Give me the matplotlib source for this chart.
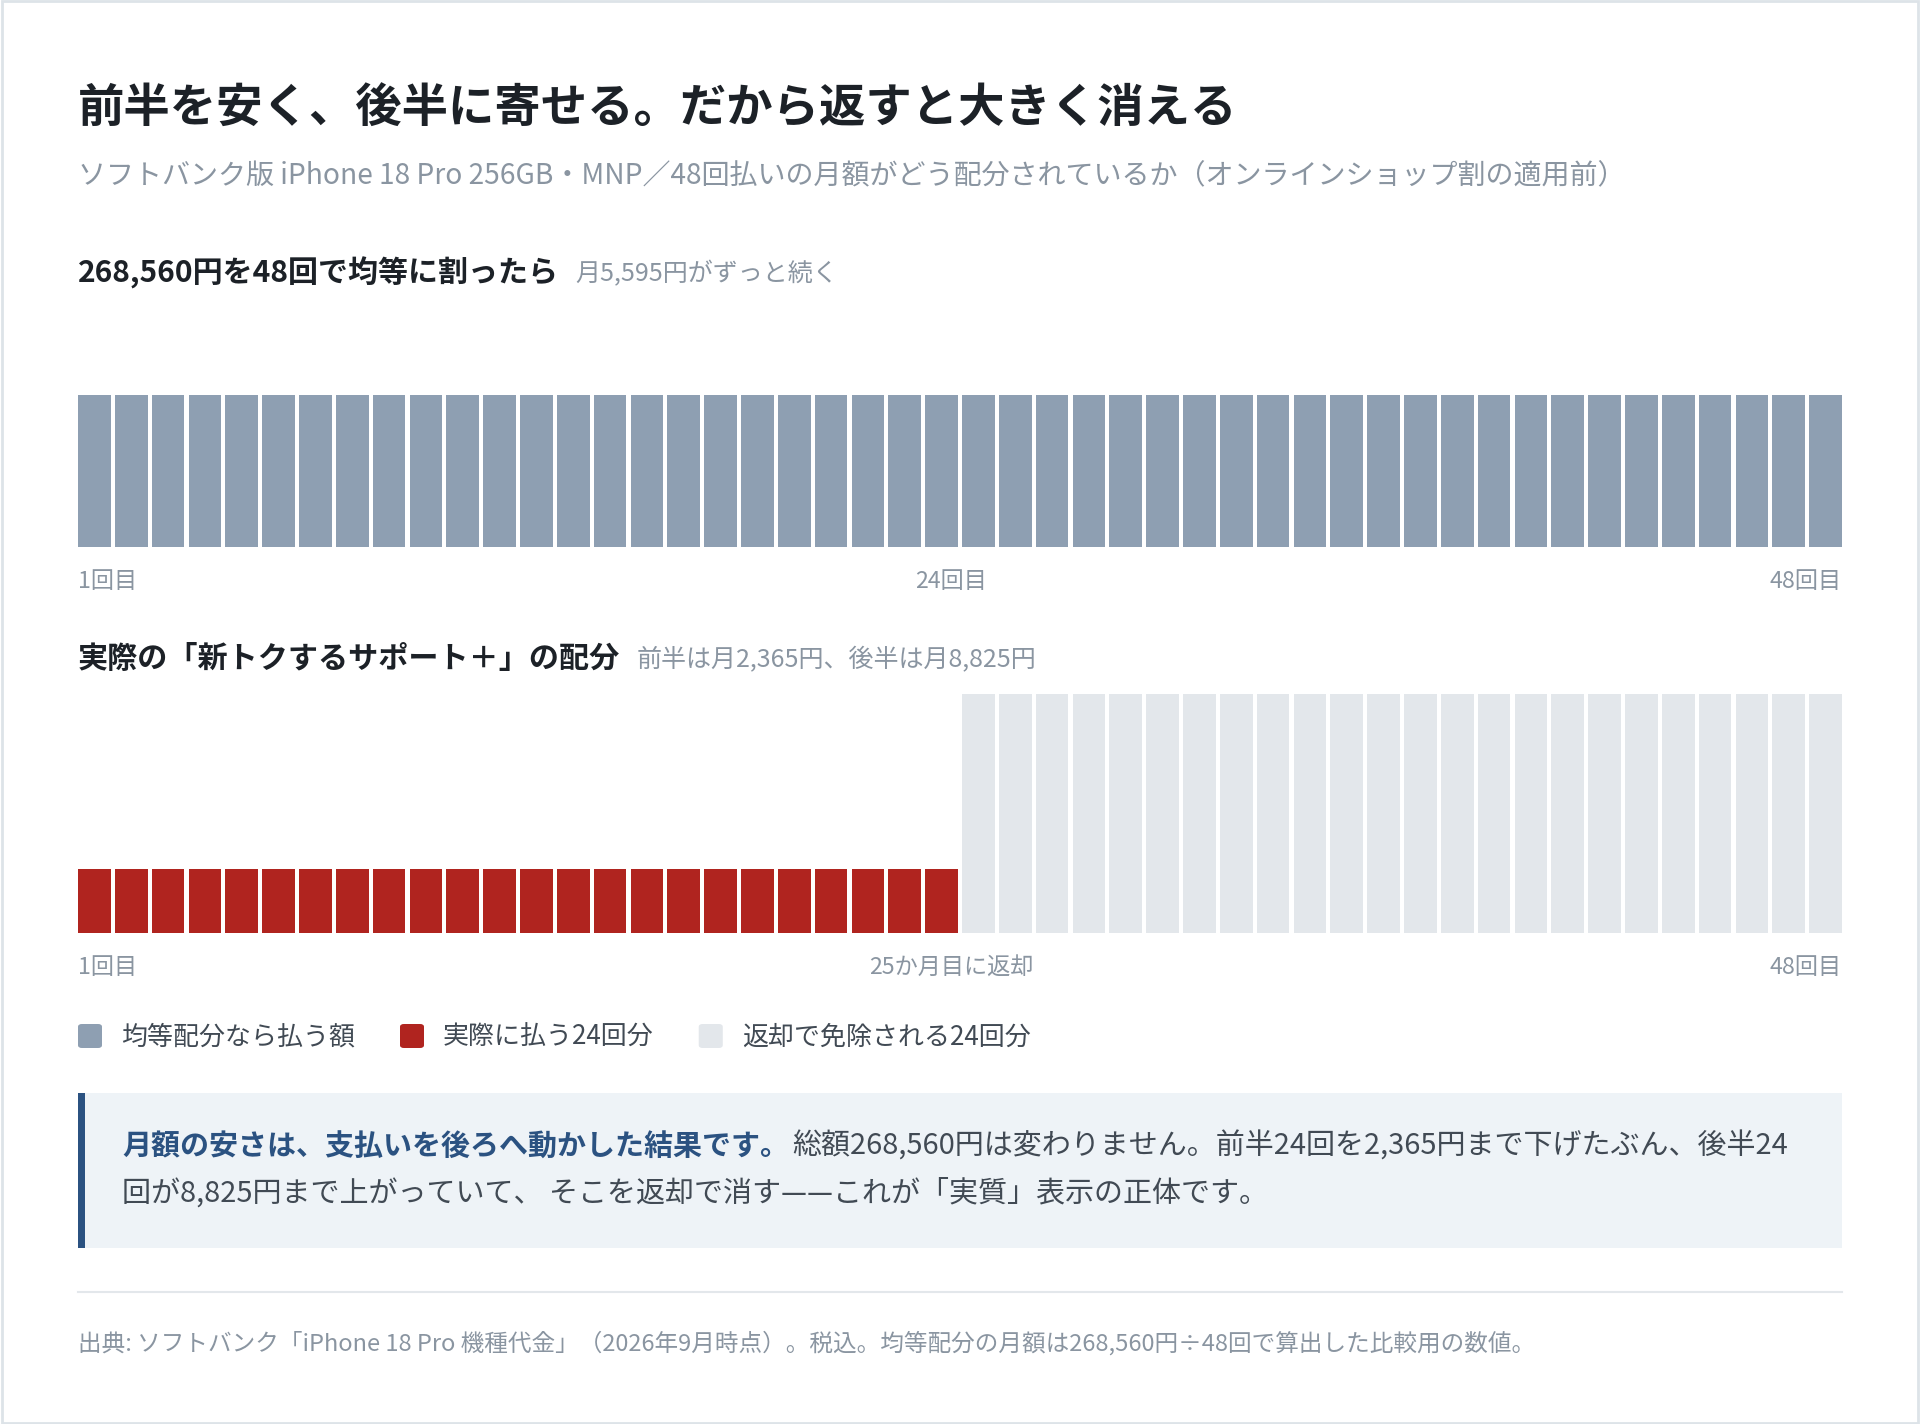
import numpy as np
import matplotlib.pyplot as plt
from matplotlib.patches import Rectangle, FancyBboxPatch
from matplotlib.lines import Line2D

plt.rcParams['font.family'] = ['Noto Sans CJK JP', 'DejaVu Sans']

# data
months = list(range(1, 49))
equal_values = [5595] * 48
actual_values = [2365] * 24 + [8825] * 24
actual_paid = [True] * 24 + [False] * 24

title = "前半を安く、後半に寄せる。だから返すと大きく消える"
subtitle = "ソフトバンク版 iPhone 18 Pro 256GB・MNP／48回払いの月額がどう配分されているか（オンラインショップ割の適用前）"
head1 = "268,560円を48回で均等に割ったら"
head1_note = "月5,595円がずっと続く"
head2 = "実際の「新トクするサポート＋」の配分"
head2_note = "前半は月2,365円、後半は月8,825円"
ticks1 = ["1回目", "24回目", "48回目"]
ticks2 = ["1回目", "25か月目に返却", "48回目"]
legend_labels = ["均等配分なら払う額", "実際に払う24回分", "返却で免除される24回分"]
note_bold = "月額の安さは、支払いを後ろへ動かした結果です。"
note_line1 = "総額268,560円は変わりません。前半24回を2,365円まで下げたぶん、後半24"
note_line2 = "回が8,825円まで上がっていて、 そこを返却で消す——これが「実質」表示の正体です。"
source = "出典: ソフトバンク「iPhone 18 Pro 機種代金」（2026年9月時点）。税込。均等配分の月額は268,560円÷48回で算出した比較用の数値。"

C_EQUAL = "#8e9fb2"
C_PAID = "#b0241f"
C_FREE = "#e3e7eb"
C_DARK = "#1c2127"
C_GRAY = "#8a95a1"
C_TEXT = "#414a54"
C_BLUE = "#2b5281"

W, H = 1920, 1424
fig = plt.figure(figsize=(W / 100, H / 100), dpi=100)
renderer = fig.canvas.get_renderer()
DY = 4  # small downward nudge for all text


def put(x, y, s, **kw):
    return fig.text(x / W, 1 - (y + DY) / H, s, va="center", **kw)


def right_edge(t):
    return t.get_window_extent(renderer=renderer).x1


def add_axes_px(left, top, right, bottom):
    return fig.add_axes([left / W, 1 - bottom / H, (right - left) / W, (bottom - top) / H])


L, R = 78, 1842
bar_w = 0.89
ymax = max(actual_values)

put(L, 105, title, fontsize=33.4, fontweight="bold", color=C_DARK)
put(L, 171, subtitle, fontsize=20.2, color=C_GRAY)

# panel 1
t = put(L, 269, head1, fontsize=21.6, fontweight="bold", color=C_DARK)
put(right_edge(t) + 16, 270, head1_note, fontsize=18, color=C_GRAY)

ax1 = add_axes_px(L, 308, R, 547)
ax1.bar([m - 1 for m in months], equal_values, width=bar_w, align="edge", color=C_EQUAL)

# panel 2
t = put(L, 655, head2, fontsize=21.7, fontweight="bold", color=C_DARK)
put(right_edge(t) + 16, 656, head2_note, fontsize=18, color=C_GRAY)

ax2 = add_axes_px(L, 694, R, 933)
colors2 = [C_PAID if p else C_FREE for p in actual_paid]
ax2.bar([m - 1 for m in months], actual_values, width=bar_w, align="edge", color=colors2)

for ax, labels, ytick in [(ax1, ticks1, 577), (ax2, ticks2, 964)]:
    ax.set_xlim(0, 47 + bar_w)
    ax.set_ylim(0, ymax)
    ax.axis("off")
    put(L, ytick, labels[0], ha="left", fontsize=16.7, color=C_GRAY)
    put(L + 0.495 * (R - L), ytick, labels[1], ha="center", fontsize=16.7, color=C_GRAY)
    put(R, ytick, labels[2], ha="right", fontsize=16.7, color=C_GRAY)

# legend
x = L
for col, lab in zip([C_EQUAL, C_PAID, C_FREE], legend_labels):
    fig.patches.append(FancyBboxPatch((x / W, 1 - 1048 / H), 24 / W, 24 / H,
                                      boxstyle="round,pad=0,rounding_size=0.002",
                                      transform=fig.transFigure, facecolor=col,
                                      edgecolor="none"))
    t = put(x + 43, 1033, lab, fontsize=18.7, color=C_TEXT)
    x = right_edge(t) + 45

# callout box
fig.patches.append(Rectangle((L / W, 1 - 1248 / H), (R - L) / W, (1248 - 1093) / H,
                             transform=fig.transFigure, facecolor="#eef3f7", edgecolor="none"))
fig.patches.append(Rectangle((L / W, 1 - 1248 / H), 7 / W, (1248 - 1093) / H,
                             transform=fig.transFigure, facecolor=C_BLUE, edgecolor="none"))
t = put(122, 1143, note_bold, fontsize=20.9, fontweight="bold", color=C_BLUE)
put(right_edge(t) + 3, 1143, note_line1, fontsize=20.9, color=C_TEXT)
put(122, 1189, note_line2, fontsize=20.9, color=C_TEXT)

# separator and source
fig.lines.append(Line2D([L / W, R / W], [1 - 1292 / H, 1 - 1292 / H],
                        transform=fig.transFigure, color="#e3e7eb", lw=1.5))
put(L, 1339, source, fontsize=17, color=C_GRAY)

# outer border
fig.patches.append(Rectangle((0.0008, 0.001), 0.9984, 0.998, transform=fig.transFigure,
                             facecolor="none", edgecolor="#dde3e8", lw=2))

fig.savefig("out.png", dpi=100, facecolor="white")
